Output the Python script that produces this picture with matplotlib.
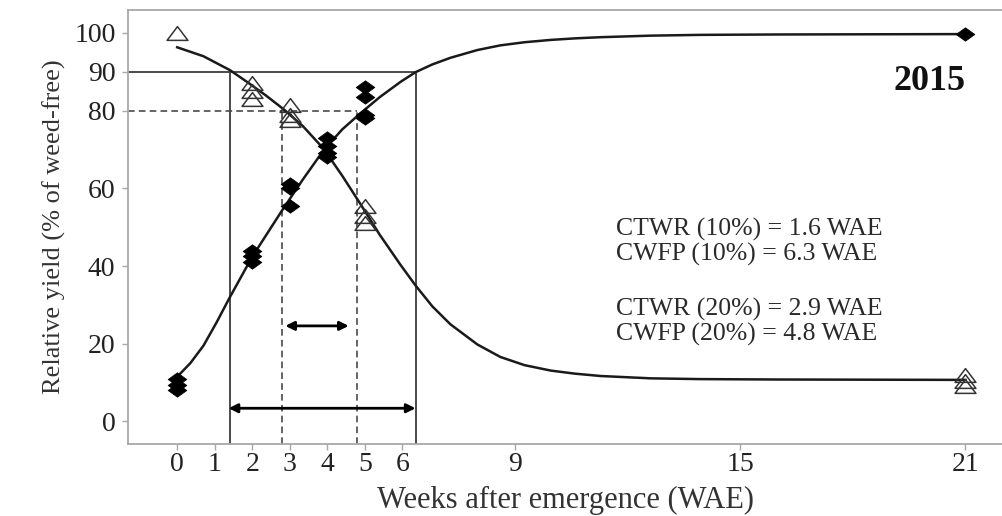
import matplotlib
matplotlib.use("Agg")
import matplotlib.pyplot as plt
from matplotlib.path import Path

# ---------------- data ----------------
x_ticks = [0, 1, 2, 3, 4, 5, 6, 9, 15, 21]
y_ticks = [0, 20, 40, 60, 80, 90, 100]

# weed-free period (triangles) observations
tri_x = [0, 2, 2, 2, 3, 3, 3, 5, 5, 5, 21, 21, 21]
tri_y = [100, 87, 85, 83, 81.5, 79, 77.5, 55.5, 53, 51, 12, 10.5, 9]

# weedy period (diamonds) observations
dia_x = [0, 0, 0, 2, 2, 2, 3, 3, 3, 4, 4, 4, 4, 5, 5, 5, 5, 21]
dia_y = [11, 9.5, 8, 44, 42.5, 41, 61, 60, 55.5, 73, 71, 69, 68, 86, 83.5, 79, 78, 99.7]

# fitted curves, points
dec_x = [0, 0.7, 1.41, 1.86, 2.35, 2.83, 3.35, 3.9, 4.4, 4.88, 5.4, 5.95, 6.35,
         6.8, 7.28, 8.0, 8.61, 9.25, 9.95, 10.6, 11.28, 12.61, 13.95, 16, 21]
dec_y = [96.3, 94.0, 90.4, 87.4, 84.0, 80.4, 76.0, 70.2, 63.2, 56.0, 48.0, 40.3, 35.0,
         29.6, 25.0, 19.8, 16.6, 14.5, 13.1, 12.3, 11.7, 11.1, 10.9, 10.8, 10.7]

inc_x = [0, 0.35, 0.7, 1.05, 1.41, 2.0, 2.8, 3.35, 3.9, 4.4, 4.88, 5.4, 5.95,
         6.35, 6.8, 7.28, 8.0, 8.61, 9.25, 9.95, 10.6, 11.28, 12.61, 13.95, 16, 21]
inc_y = [11.5, 15.0, 19.5, 25.5, 32.1, 42.4, 54.4, 62.3, 69.8, 75.2, 79.3, 83.5, 87.4,
         89.9, 91.9, 93.6, 95.6, 96.8, 97.6, 98.2, 98.6, 98.9, 99.3, 99.5, 99.6, 99.7]

# critical period markers (as drawn)
solid_lvl = 90
solid_x = [1.42, 6.35]
dash_lvl = 80
dash_x = [2.8, 4.79]
arrow_long = (1.37, 6.35, 3.4)
arrow_short = (2.88, 4.57, 24.6)

notes = ["CTWR (10%) = 1.6 WAE", "CWFP (10%) = 6.3 WAE",
         "CTWR (20%) = 2.9 WAE", "CWFP (20%) = 4.8 WAE"]
note_y = [49.4, 43.0, 28.8, 22.4]

# ---------------- figure ----------------
plt.rcParams['font.family'] = ['Liberation Serif', 'DejaVu Serif']

fig = plt.figure(figsize=(10.03, 5.16), dpi=100)
ax = fig.add_axes([128 / 1003, 1 - 444 / 516, 1 - 128 / 1003, (444 - 10) / 516])
ax.set_xlim(-1.31, 22.0)
ax.set_ylim(-5.8, 105.9)

spine_col = '#a8a8a8'
for side in ['left', 'bottom', 'top']:
    ax.spines[side].set_color(spine_col)
    ax.spines[side].set_linewidth(1.3)
ax.spines['right'].set_visible(False)

ax.set_xticks(x_ticks)
ax.set_yticks(y_ticks)
ax.tick_params(axis='both', colors=spine_col, length=4, width=1, labelcolor='#222222',
               labelsize=20)
ax.tick_params(axis='y', pad=5)
ax.tick_params(axis='x', pad=2)

# reference lines
ref_col = '#4a4a4a'
ax.plot([ax.get_xlim()[0], solid_x[1]], [solid_lvl, solid_lvl], color=ref_col, lw=1.4, zorder=2)
for xv in solid_x:
    ax.plot([xv, xv], [ax.get_ylim()[0], solid_lvl], color=ref_col, lw=1.4, zorder=2)
ax.plot([ax.get_xlim()[0], dash_x[1]], [dash_lvl, dash_lvl], color=ref_col, lw=1.2,
        ls=(0, (4, 2.5)), zorder=2)
for xv in dash_x:
    ax.plot([xv, xv], [ax.get_ylim()[0], dash_lvl], color=ref_col, lw=1.2,
            ls=(0, (4, 2.5)), zorder=2)

# curves
ax.plot(dec_x, dec_y, color='#1a1a1a', lw=1.8, zorder=3, solid_joinstyle='round')
ax.plot(inc_x, inc_y, color='#1a1a1a', lw=1.8, zorder=3, solid_joinstyle='round')

# markers
diamond = Path([(-1, 0), (0, 0.72), (1, 0), (0, -0.72), (-1, 0)],
               [Path.MOVETO, Path.LINETO, Path.LINETO, Path.LINETO, Path.CLOSEPOLY])
triangle = Path([(-1, -0.66), (1, -0.66), (0, 0.66), (-1, -0.66)],
                [Path.MOVETO, Path.LINETO, Path.LINETO, Path.CLOSEPOLY])
ax.plot(dia_x, dia_y, ls='none', marker=diamond, ms=13.5, mfc='black', mec='black',
        mew=0.5, zorder=4, clip_on=False)
ax.plot(tri_x, tri_y, ls='none', marker=triangle, ms=15, mfc='none', mec='#333333',
        mew=1.1, zorder=4, clip_on=False)

# arrows
for (x0, x1, yv) in [arrow_long, arrow_short]:
    ax.annotate('', xy=(x1, yv), xytext=(x0, yv),
                arrowprops=dict(arrowstyle='<|-|>', color='black', lw=2.0,
                                mutation_scale=13, shrinkA=0, shrinkB=0), zorder=5)

# texts
for t, yv in zip(notes, note_y):
    ax.text(11.7, yv, t, fontsize=18.5, color='#2a2a2a', va='center', ha='left')
ax.text(20.05, 87.6, '2015', fontsize=26, fontweight='bold', color='#111111',
        ha='center', va='center')

ax.set_xlabel('Weeks after emergence (WAE)', fontsize=22, color='#333333', labelpad=6)
ax.set_ylabel('Relative yield (% of weed-free)', fontsize=19, color='#333333', labelpad=6)

fig.savefig('out.png', dpi=100)
